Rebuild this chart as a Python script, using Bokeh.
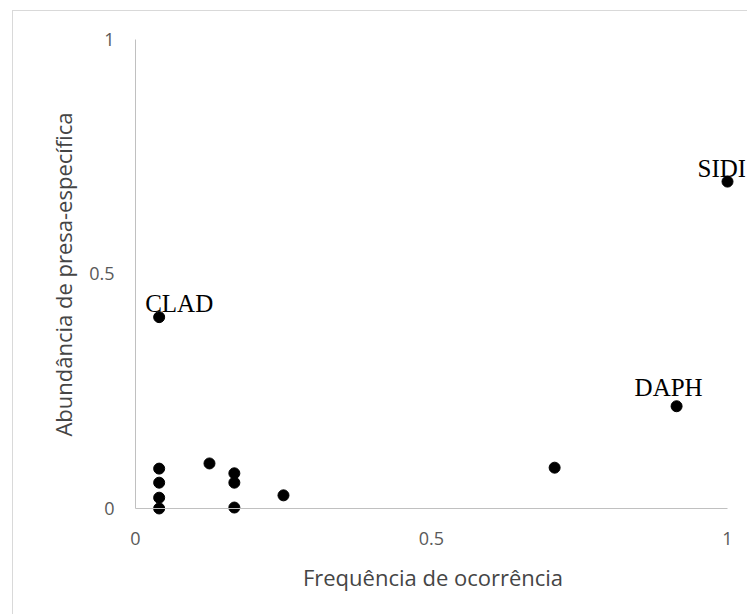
from bokeh.plotting import figure
from bokeh.models import Range1d, FixedTicker, ColumnDataSource, LinearAxis
from bokeh.core.properties import value
from bokeh.embed import file_html
from bokeh.resources import INLINE

# data
freq = [0.04, 1.0, 0.914, 0.708, 0.04, 0.04, 0.04, 0.04, 0.125, 0.167, 0.167, 0.167, 0.25]
abund = [0.408, 0.697, 0.218, 0.087, 0.085, 0.055, 0.023, 0.0, 0.096, 0.075, 0.055, 0.002, 0.028]
label_names = ["CLAD", "SIDI", "DAPH"]
label_freq = [0.04, 1.0, 0.914]
label_abund = [0.408, 0.697, 0.218]
tick_values = [0, 0.5, 1]
tick_labels = ["0", "0.5", "1"]
x_title = "Frequência de ocorrência"
y_title = "Abundância de presa-específica"

# label placement (screen px)
label_dx = [-14, -30, -42]
label_dy = [-14, -13, -19]

p = figure(
    frame_width=625, frame_height=496,
    min_border_left=107, min_border_right=2, min_border_top=15, min_border_bottom=92,
    x_range=Range1d(-0.0253, 1.0304), y_range=Range1d(-0.0299, 1.0277),
    output_backend="svg", toolbar_location=None,
    background_fill_color="white", border_fill_color="white",
)
p.margin = (10, 0, 0, 12)
p.styles = {"border-left": "1px solid #d9d9d9", "border-top": "1px solid #d9d9d9"}
p.outline_line_color = None
p.grid.visible = False

# label axes (at frame edges, no line)
for ax in (p.xaxis[0], p.yaxis[0]):
    ax.ticker = FixedTicker(ticks=tick_values)
    ax.major_label_overrides = {v: t for v, t in zip(tick_values, tick_labels)}
    ax.major_tick_line_color = None
    ax.minor_tick_line_color = None
    ax.axis_line_color = None
    ax.major_label_text_font = "Open Sans"
    ax.major_label_text_font_size = "18px"
    ax.major_label_text_color = "#595959"
    ax.axis_label_text_font = "Open Sans"
    ax.axis_label_text_font_size = "22px"
    ax.axis_label_text_font_style = "normal"
    ax.axis_label_text_color = "#454545"

p.xaxis.axis_label = x_title
p.yaxis.axis_label = y_title
p.xaxis.major_label_standoff = 3
p.xaxis.axis_label_standoff = 14
p.yaxis.major_label_standoff = 0
p.yaxis.axis_label_standoff = 8

# line-only axes crossing at the origin
for loc in ("below", "left"):
    ax = LinearAxis(fixed_location=0, bounds=(0, 1), ticker=FixedTicker(ticks=[]),
                    major_label_text_font_size="0px",
                    major_tick_line_color=None, minor_tick_line_color=None,
                    axis_line_color="#c0c0c0", axis_line_width=1)
    p.add_layout(ax, loc)

p.scatter(freq, abund, size=11, color="black", line_color="black")

src = ColumnDataSource(dict(x=label_freq, y=label_abund, t=label_names, dx=label_dx, dy=label_dy))
p.text(x="x", y="y", text="t", x_offset="dx", y_offset="dy", source=src,
       text_font=value("Liberation Serif"), text_font_size="25px", text_color="black",
       text_align="left", text_baseline="alphabetic")

open("out.html", "w").write(file_html(p, INLINE))
